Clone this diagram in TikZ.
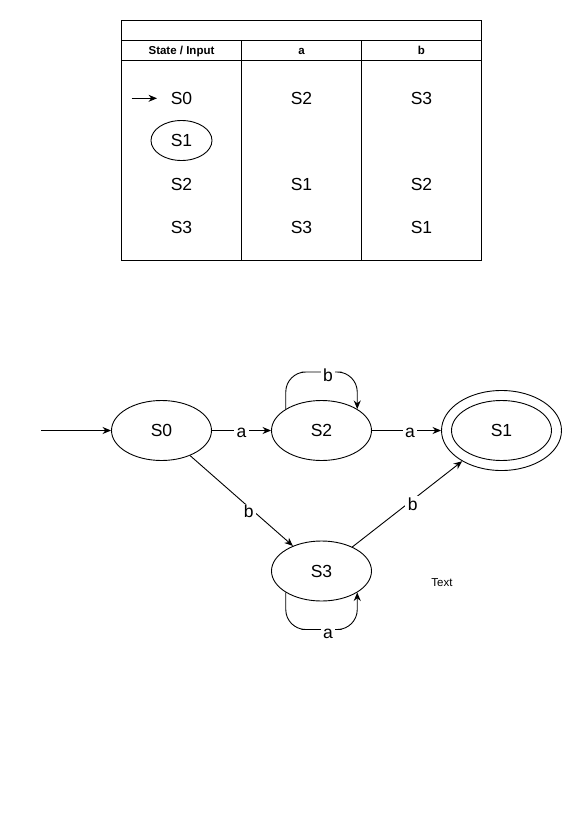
\documentclass[tikz,border=0pt]{standalone}
\usepackage{fontspec}
\setmainfont{Liberation Sans}
\usetikzlibrary{shapes.geometric,arrows.meta}
\begin{document}
\begin{tikzpicture}[x=1pt,y=-1pt,
  line width=0.9pt,
  cell/.style={font=\fontsize{17.5}{20}\selectfont, inner sep=0pt, anchor=base},
  hdr/.style={font=\fontsize{11.5}{13}\selectfont\bfseries, inner sep=0pt, anchor=base},
  state/.style={draw, ellipse, minimum width=100pt, minimum height=60pt, inner sep=0pt,
    font=\fontsize{17.5}{20}\selectfont},
  tip/.style={-{Stealth[length=8.5pt,width=7pt]}},
  elabel/.style={fill=white, inner xsep=2.5pt, inner ysep=1pt, font=\fontsize{17.5}{20}\selectfont},
]
\fill[white] (0,0) rectangle (582,817);
\useasboundingbox (0,0) rectangle (582,817);

% transition table frame
\draw (121.5,20.5) rectangle (481.5,260);
\draw (121.5,40.5) -- (481.5,40.5);
\draw (121.5,60.5) -- (481.5,60.5);
\draw (241.5,40.5) -- (241.5,260);
\draw (361.5,40.5) -- (361.5,260);

% header row
\node[hdr] (hState) at (181.5,54.5) {State / Input};
\node[hdr] (hA) at (301.5,54.5) {a};
\node[hdr] (hB) at (421.5,54.5) {b};

% table rows
\node[cell] (r0s) at (181.5,104.3) {S0};
\node[cell] (r0a) at (301.5,104.3) {S2};
\node[cell] (r0b) at (421.5,104.3) {S3};
\node[draw, ellipse, minimum width=61pt, minimum height=40pt, inner sep=0pt,
  font=\fontsize{17.5}{20}\selectfont] (r1s) at (181.5,140.5) {S1};
\node[cell] (r2s) at (181.5,190.5) {S2};
\node[cell] (r2a) at (301.5,190.5) {S1};
\node[cell] (r2b) at (421.5,190.5) {S2};
\node[cell] (r3s) at (181.5,233.2) {S3};
\node[cell] (r3a) at (301.5,233.2) {S3};
\node[cell] (r3b) at (421.5,233.2) {S1};
\coordinate (t0a) at (131.5,98.3);
\coordinate (t0b) at (157,98.3);
\draw[tip] (t0a) -- (t0b);

% automaton states
\node[state] (S0) at (161.5,430.5) {S0};
\node[state] (S2) at (321.5,430.5) {S2};
\node[draw, ellipse, minimum width=120pt, minimum height=80pt, inner sep=0pt] (S1) at (501.5,430.5) {};
\node[state] (S1in) at (501.5,430.5) {S1};
\node[state] (S3) at (321.5,571) {S3};

% transitions
\coordinate (start) at (41,430.5);
\draw[tip] (start) -- (S0);
\draw[tip] (S0) -- node[elabel, yshift=-2pt] {a} (S2);
\draw[tip] (S2) -- node[elabel, pos=0.55, yshift=-2pt] {a} (S1);
\draw[tip] (S0) -- node[elabel, pos=0.57, yshift=-4pt] {b} (S3);
\draw[tip] (S3) -- node[elabel, pos=0.55, yshift=-4pt] {b} (S1);

% self loops
\coordinate (loop2) at (321.5,372);
\draw[tip, rounded corners=20pt] (S2.149) |- (loop2) -| (S2.31);
\node[elabel] (lb2) at (328,375) {b};
\coordinate (loop3) at (321.5,629.5);
\draw[tip, rounded corners=20pt] (S3.-149) |- (loop3) -| (S3.-31);
\node[elabel] (la3) at (328,633.5) {a};

\node[font=\fontsize{11.5}{13}\selectfont, inner sep=0pt] (txt) at (442,583) {Text};
\end{tikzpicture}
\end{document}
